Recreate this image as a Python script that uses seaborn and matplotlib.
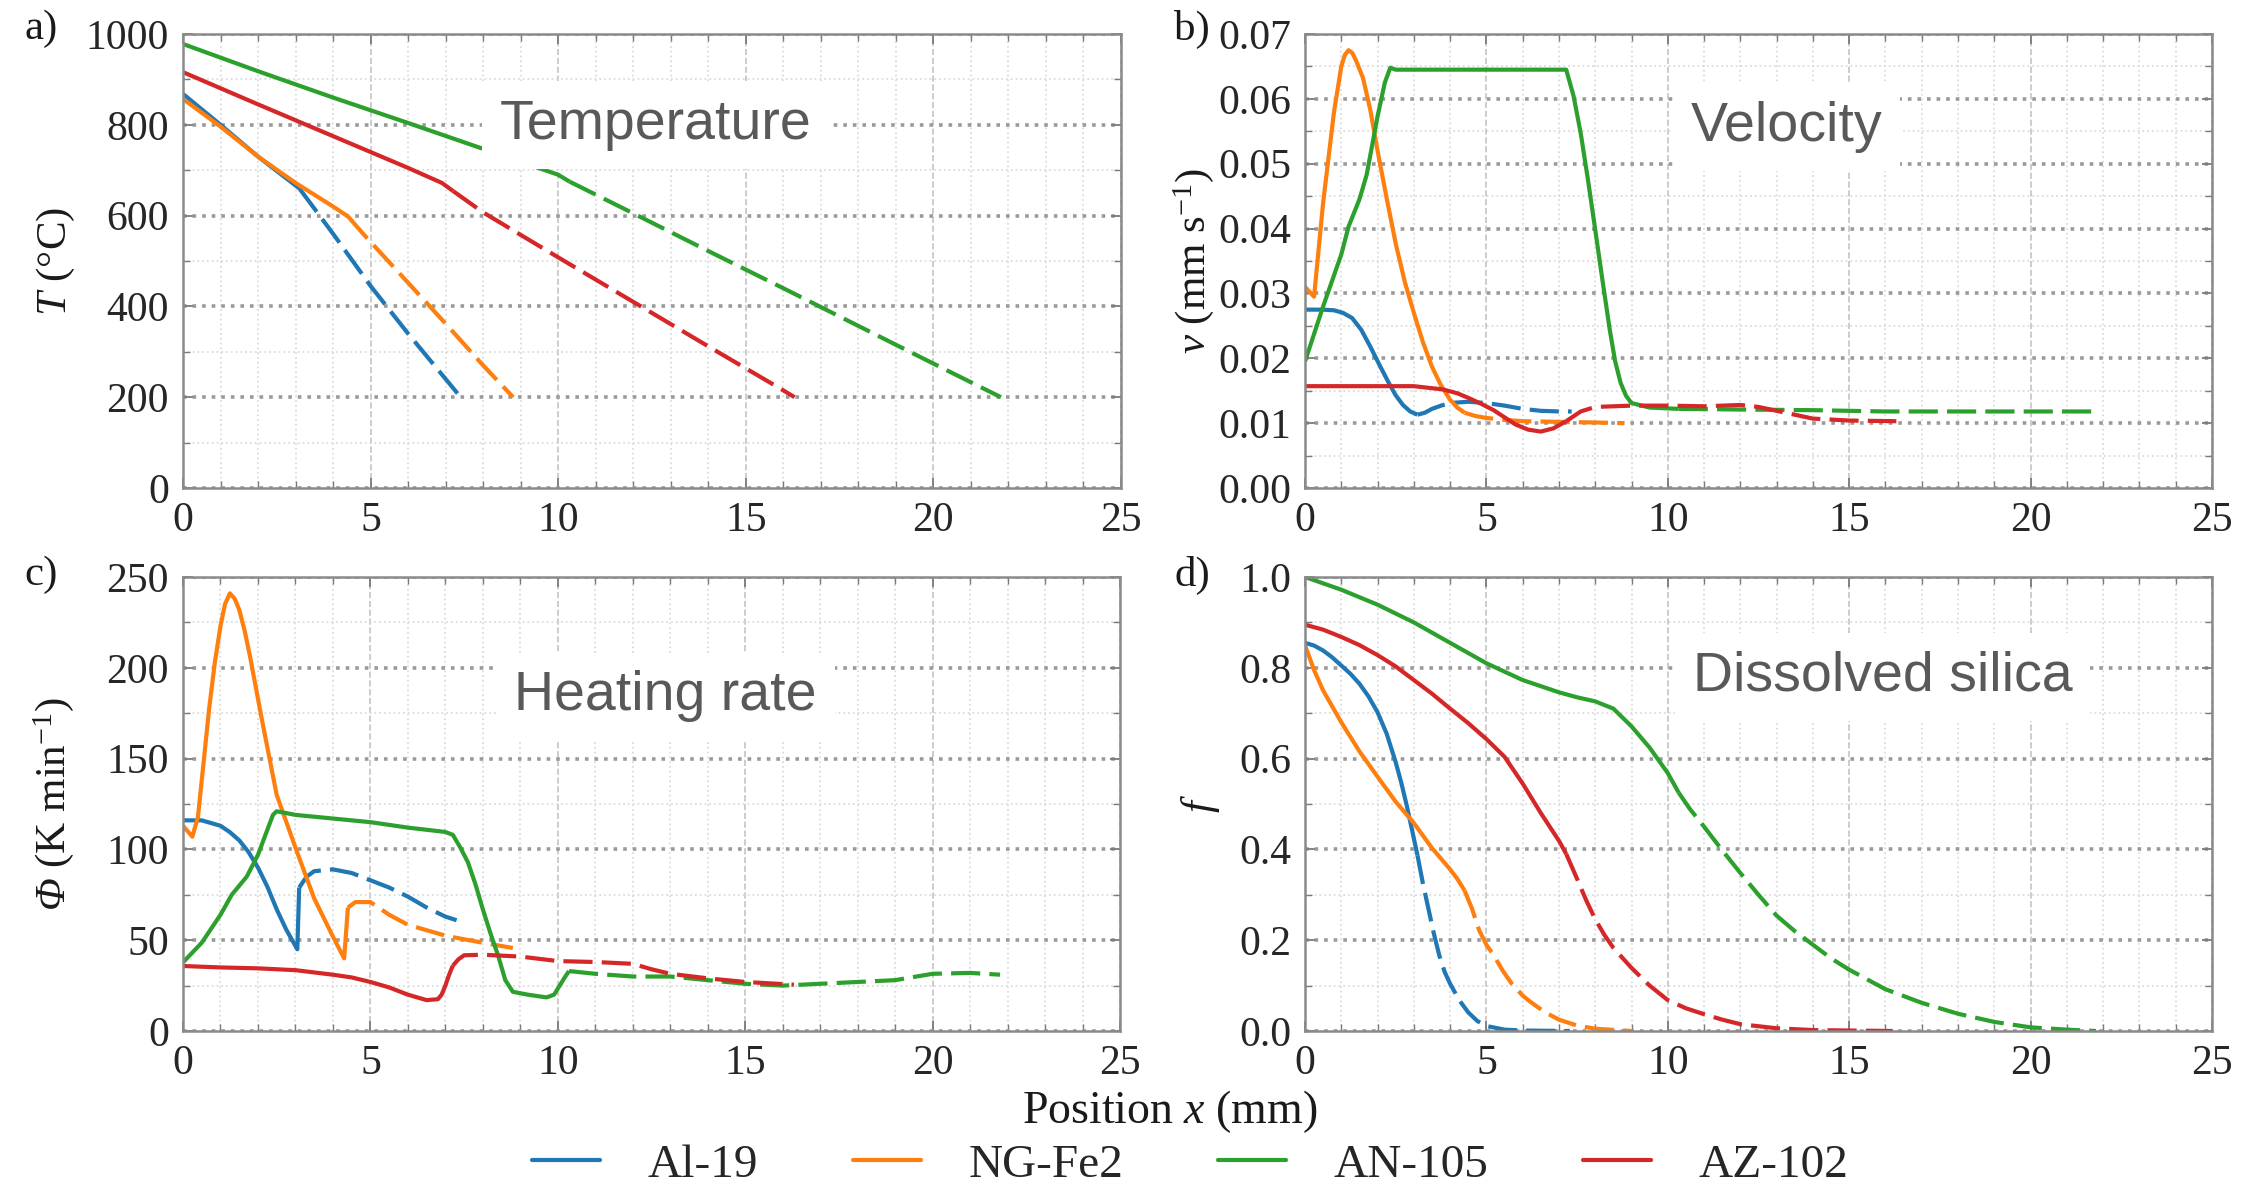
import matplotlib
matplotlib.use("Agg")
import numpy as np
import pandas as pd
import matplotlib.pyplot as plt
import seaborn as sns
from matplotlib.ticker import MultipleLocator, FormatStrFormatter
from matplotlib.lines import Line2D

# ---------------- data ----------------
SAMPLES = ["Al-19", "NG-Fe2", "AN-105", "AZ-102"]
COLORS = ["#1f77b4", "#ff7f0e", "#2ca02c", "#d62728"]
SPLIT_X = [3.1, 4.4, 10.3, 7.2]   # solid before, dashed after

# (a) temperature
A_AL19_X = [0, 1, 2, 3.1, 4, 5, 6, 7, 7.4]
A_AL19_Y = [868, 800, 730, 660, 560, 445, 340, 240, 200]
A_NGFE2_X = [0, 1, 2, 3, 4, 4.4, 4.8, 5.5, 6, 7, 8, 8.8]
A_NGFE2_Y = [857, 796, 730, 672, 620, 598, 560, 497, 452, 362, 270, 200]
A_AN105_X = [0, 2, 4, 6, 8, 10, 10.3, 12, 14, 16, 18, 20, 21.8]
A_AN105_Y = [978, 918, 860, 804, 747, 690, 675, 605, 522, 440, 357, 274, 200]
A_AZ102_X = [0, 2, 4, 6, 6.9, 7.2, 8, 10, 12, 14, 16, 16.3]
A_AZ102_Y = [916, 845, 775, 705, 672, 654, 607, 508, 410, 312, 215, 200]

# (b) velocity
B_AL19_X = [0, 0.5, 0.8, 1.05, 1.3, 1.55, 1.8, 2.05, 2.3, 2.5, 2.7, 2.9, 3.1, 3.3, 3.5, 3.75,
            4.0, 4.5, 5.0, 5.5, 6.0, 6.5, 7.0, 7.35]
B_AL19_Y = [0.0275, 0.0275, 0.0274, 0.0270, 0.0262, 0.0244, 0.0218, 0.0190, 0.0163, 0.0143,
            0.0128, 0.0118, 0.0113, 0.0116, 0.0122, 0.0127, 0.0131, 0.0133, 0.0131, 0.0127,
            0.0122, 0.0119, 0.0118, 0.0118]
B_NGFE2_X = [0, 0.25, 0.5, 0.8, 1.0, 1.1, 1.2, 1.3, 1.4, 1.6, 1.8, 2.0, 2.25, 2.5, 2.75, 3.0,
             3.25, 3.5, 3.75, 4.0, 4.2, 4.4, 4.7, 5.0, 5.5, 6.0, 7.0, 8.0, 8.8]
B_NGFE2_Y = [0.031, 0.0295, 0.044, 0.058, 0.065, 0.0668, 0.0675, 0.0671, 0.066, 0.0632,
             0.0583, 0.052, 0.0447, 0.0377, 0.0318, 0.027, 0.0225, 0.0187, 0.0158, 0.0136,
             0.0124, 0.0116, 0.0111, 0.0108, 0.0105, 0.0103, 0.0102, 0.0101, 0.0100]
B_AN105_X = [0, 0.5, 1.0, 1.2, 1.5, 1.7, 2.0, 2.2, 2.35, 2.5, 4, 6, 7.2, 7.4, 7.6, 7.8, 8.0,
             8.2, 8.4, 8.55, 8.7, 8.85, 9.0, 9.5, 10.3, 12, 14, 16, 18, 20, 21.8]
B_AN105_Y = [0.0195, 0.028, 0.036, 0.0403, 0.0445, 0.0483, 0.0573, 0.0625, 0.0648, 0.0645,
             0.0645, 0.0645, 0.0645, 0.0605, 0.0547, 0.0475, 0.0398, 0.0320, 0.0244, 0.0195,
             0.0162, 0.0142, 0.0131, 0.0124, 0.0122, 0.0121, 0.0120, 0.0118, 0.0118, 0.0118,
             0.0118]
B_AZ102_X = [0, 1, 2, 3, 3.8, 4.2, 4.5, 4.85, 5.2, 5.5, 5.8, 6.15, 6.5, 6.85, 7.2, 7.6, 8, 9,
             10, 11, 12, 12.5, 13.0, 13.5, 14, 15, 16.3]
B_AZ102_Y = [0.0157, 0.0157, 0.0157, 0.0157, 0.0152, 0.0146, 0.0139, 0.0130, 0.0120, 0.0109,
             0.0098, 0.0090, 0.0087, 0.0092, 0.0103, 0.0118, 0.0125, 0.0127, 0.0127, 0.0126,
             0.0128, 0.0125, 0.0119, 0.0113, 0.0107, 0.0104, 0.0103]

# (c) heating rate
C_AL19_X = [0, 0.5, 1.0, 1.25, 1.5, 1.75, 2.0, 2.25, 2.5, 2.75, 3.05, 3.1, 3.3, 3.5, 4.0, 4.5,
            5.0, 5.5, 6.0, 6.5, 7.0, 7.3]
C_AL19_Y = [116, 116, 113, 109.5, 105, 98.5, 90, 79.5, 67, 56, 45, 79, 85, 88, 89, 87, 83, 79,
            74, 68, 63, 61]
C_NGFE2_X = [0, 0.25, 0.4, 0.55, 0.7, 0.85, 1.0, 1.12, 1.25, 1.38, 1.5, 1.65, 1.8, 2.1, 2.5,
             3.0, 3.5, 4.0, 4.3, 4.4, 4.6, 5.0, 5.5, 6.0, 6.5, 7.0, 7.5, 8.0, 8.8]
C_NGFE2_Y = [113, 107, 118, 148, 178, 203, 223, 235, 241, 238, 232, 220, 205, 172, 130, 101, 73,
             52, 40, 68, 71, 71, 64, 58.5, 55.5, 52.5, 50.5, 48.6, 45.7]
C_AN105_X = [0, 0.5, 1.0, 1.3, 1.7, 2.0, 2.4, 2.5, 3, 4, 5, 6, 7, 7.2, 7.4, 7.6, 7.8, 8.0, 8.2,
             8.4, 8.6, 8.8, 9.2, 9.7, 9.9, 10.05, 10.2, 10.3, 11, 12, 13, 14, 15, 16, 17, 18,
             19, 20, 21, 21.8]
C_AN105_Y = [37.8, 48.6, 64, 75, 85, 97, 119, 121, 119, 117, 115, 112, 109.6, 108, 101, 93, 81,
             67, 54, 42, 28, 21.6, 20, 18.5, 20, 25, 30, 33, 31.5, 30, 30, 28, 26, 25, 26, 27,
             28, 31.5, 32, 31]
C_AZ102_X = [0, 1, 2, 3, 4, 4.5, 5, 5.5, 6, 6.5, 6.8, 6.9, 7.0, 7.1, 7.2, 7.35, 7.5, 8, 9, 10,
             11, 12, 12.5, 13, 14, 15, 16.3]
C_AZ102_Y = [35.8, 35, 34.5, 33.5, 31, 29.5, 27, 24, 20, 17, 17.5, 20, 25, 31, 36, 39.5, 41.7,
             42, 41, 38.5, 38, 37, 34, 31.5, 29, 27, 25.5]

# (d) dissolved silica fraction
D_AL19_X = [0, 0.25, 0.5, 0.75, 1.0, 1.25, 1.5, 1.75, 2.0, 2.25, 2.5, 2.65, 2.8, 2.95, 3.1,
            3.25, 3.4, 3.55, 3.7, 3.85, 4.0, 4.25, 4.5, 4.75, 5.0, 5.5, 6.0, 7.3]
D_AL19_Y = [0.855, 0.849, 0.838, 0.823, 0.805, 0.787, 0.765, 0.737, 0.702, 0.655, 0.592,
            0.548, 0.498, 0.443, 0.387, 0.325, 0.27, 0.215, 0.167, 0.13, 0.104, 0.068, 0.041,
            0.022, 0.011, 0.003, 0.001, 0.0]
D_NGFE2_X = [0, 0.25, 0.5, 1, 1.5, 2, 2.5, 3, 3.5, 4.0, 4.2, 4.4, 4.6, 4.8, 5.0, 5.2, 5.45,
             5.7, 6.0, 6.2, 6.6, 7, 7.5, 8, 9]
D_NGFE2_Y = [0.85, 0.795, 0.75, 0.68, 0.616, 0.56, 0.505, 0.458, 0.403, 0.356, 0.335, 0.309,
             0.27, 0.222, 0.19, 0.167, 0.133, 0.104, 0.078, 0.065, 0.042, 0.025, 0.012, 0.005,
             0.0]
D_AN105_X = [0, 1, 2, 3, 4, 5, 6, 7, 7.5, 8, 8.5, 9, 9.5, 10, 10.3, 10.6, 11, 11.5, 12, 12.5,
             13, 13.5, 14, 14.5, 15, 16, 17, 18, 19, 20, 21, 21.8]
D_AN105_Y = [1.0, 0.972, 0.939, 0.9, 0.855, 0.81, 0.773, 0.746, 0.735, 0.726, 0.71, 0.671,
             0.624, 0.568, 0.525, 0.49, 0.45, 0.398, 0.348, 0.3, 0.254, 0.22, 0.19, 0.16, 0.135,
             0.092, 0.062, 0.038, 0.02, 0.008, 0.003, 0.0]
D_AZ102_X = [0, 0.5, 1, 1.5, 2, 2.5, 3, 3.5, 4, 4.5, 5, 5.5, 6, 6.5, 7.0, 7.2, 7.5, 7.75, 8,
             8.25, 8.5, 9, 9.5, 10, 10.5, 11, 11.5, 12, 13, 14, 16.2]
D_AZ102_Y = [0.895, 0.884, 0.868, 0.85, 0.828, 0.803, 0.773, 0.743, 0.71, 0.678, 0.643, 0.604,
             0.545, 0.48, 0.419, 0.39, 0.335, 0.288, 0.246, 0.212, 0.183, 0.139, 0.1, 0.068,
             0.05, 0.037, 0.025, 0.015, 0.006, 0.002, 0.0]

PANELS = [
    ("a)", "Temperature", [(A_AL19_X, A_AL19_Y), (A_NGFE2_X, A_NGFE2_Y),
                           (A_AN105_X, A_AN105_Y), (A_AZ102_X, A_AZ102_Y)]),
    ("b)", "Velocity", [(B_AL19_X, B_AL19_Y), (B_NGFE2_X, B_NGFE2_Y),
                        (B_AN105_X, B_AN105_Y), (B_AZ102_X, B_AZ102_Y)]),
    ("c)", "Heating rate", [(C_AL19_X, C_AL19_Y), (C_NGFE2_X, C_NGFE2_Y),
                            (C_AN105_X, C_AN105_Y), (C_AZ102_X, C_AZ102_Y)]),
    ("d)", "Dissolved silica", [(D_AL19_X, D_AL19_Y), (D_NGFE2_X, D_NGFE2_Y),
                                (D_AN105_X, D_AN105_Y), (D_AZ102_X, D_AZ102_Y)]),
]
YLABELS = [r"$T$ (°C)", r"$v$ (mm s$^{\mathregular{-1}}$)",
           r"$Φ$ (K min$^{\mathregular{-1}}$)", r"$f$"]
YLIMS = [(0, 1000), (0, 0.07), (0, 250), (0, 1.0)]
YMAJOR = [200, 0.01, 50, 0.2]
YFMT = ["%d", "%.2f", "%d", "%.1f"]

# ---------------- style ----------------
sns.set_style("ticks")
SERIF = ["Liberation Serif", "DejaVu Serif"]
plt.rcParams["font.family"] = SERIF
plt.rcParams["mathtext.fontset"] = "custom"
plt.rcParams["mathtext.rm"] = "Liberation Serif:italic"
plt.rcParams["mathtext.it"] = "Liberation Serif:italic"
plt.rcParams["mathtext.bf"] = "Liberation Serif:bold"

W, H = 2250, 1190
fig = plt.figure(figsize=(W / 100, H / 100), dpi=100)

# axes rectangles in pixels: left, top, right, bottom
RECTS = [(183, 34, 1121, 488), (1305, 34, 2212, 488),
         (183, 577, 1120, 1031), (1305, 577, 2212, 1031)]
LETTER_POS = [(24, 29), (1174, 29), (24, 575), (1174, 575)]
ANNOT_POS = [(0.504, 0.800), (0.531, 0.795), (0.515, 0.737), (0.637, 0.780)]
YLABEL_X = [-0.113, -0.098, -0.114, -0.092]

TICK_FS = 30
LINE_W = 3.0
DASH = (0, (7, 2.2))

for i, (letter, title, series) in enumerate(PANELS):
    l, t, r, b = RECTS[i]
    ax = fig.add_axes([l / W, 1 - b / H, (r - l) / W, (b - t) / H])
    for k, (xs, ys) in enumerate(series):
        df = pd.DataFrame({"x": xs, "y": ys})
        sx = SPLIT_X[k]
        solid = df[df["x"] <= sx + 1e-9]
        dashed = df[df["x"] >= sx - 1e-9]
        sns.lineplot(data=solid, x="x", y="y", ax=ax, color=COLORS[k], lw=LINE_W,
                     sort=False, estimator=None, solid_capstyle="butt",
                     solid_joinstyle="round")
        sns.lineplot(data=dashed, x="x", y="y", ax=ax, color=COLORS[k], lw=LINE_W,
                     sort=False, estimator=None, linestyle=DASH, dash_capstyle="butt",
                     dash_joinstyle="round")
    ax.set_xlim(0, 25)
    ax.set_ylim(*YLIMS[i])
    ax.xaxis.set_major_locator(MultipleLocator(5))
    ax.xaxis.set_minor_locator(MultipleLocator(1))
    ax.yaxis.set_major_locator(MultipleLocator(YMAJOR[i]))
    ax.yaxis.set_minor_locator(MultipleLocator(YMAJOR[i] / 2))
    ax.yaxis.set_major_formatter(FormatStrFormatter(YFMT[i]))
    ax.set_axisbelow(True)
    ax.grid(which="minor", axis="both", linestyle=":", color="#dcdcdc", lw=1.3)
    ax.grid(which="major", axis="x", linestyle="--", color="#c4c4c4", lw=1.2)
    ax.grid(which="major", axis="y", linestyle=":", color="#9a9a9a", lw=2.6)
    ax.tick_params(which="both", direction="in", top=True, right=True, color="#7a7a7a",
                   labelsize=TICK_FS, labelcolor="#262626")
    ax.tick_params(which="major", length=7, width=1.3, pad=10)
    ax.tick_params(which="minor", length=5, width=1.0)
    for lab in ax.get_xticklabels() + ax.get_yticklabels():
        lab.set_family(SERIF)
    for sp in ax.spines.values():
        sp.set_color("#8a8a8a")
        sp.set_linewidth(1.8)
    ax.set_xlabel("")
    ax.set_ylabel(YLABELS[i], fontsize=31, color="#1a1a1a", family=SERIF)
    ax.yaxis.set_label_coords(YLABEL_X[i], 0.5)
    ax.text(ANNOT_POS[i][0], ANNOT_POS[i][1], title, transform=ax.transAxes,
            ha="center", va="center", fontsize=40, color="#595959",
            family=["Liberation Sans", "DejaVu Sans"],
            bbox=dict(boxstyle="square,pad=0.32", facecolor="white", edgecolor="none"),
            zorder=5)
    lx, ly = LETTER_POS[i]
    fig.text(lx / W, 1 - ly / H, letter, fontsize=31, ha="left", va="center",
             color="#1a1a1a", family=SERIF)

fig.text(1170 / W, 1 - 1112 / H, r"Position $x$ (mm)", fontsize=33, ha="center",
         va="center", color="#1a1a1a", family=SERIF)

handles = [Line2D([0], [0], color=c, lw=LINE_W) for c in COLORS]
fig.legend(handles, SAMPLES, loc="center", bbox_to_anchor=(1190 / W, 1 - 1165 / H),
           ncol=4, frameon=False, handlelength=1.45, handletextpad=1.0,
           columnspacing=2.0, borderaxespad=0, prop={"family": SERIF, "size": 34})

fig.savefig("out.png", dpi=100)
